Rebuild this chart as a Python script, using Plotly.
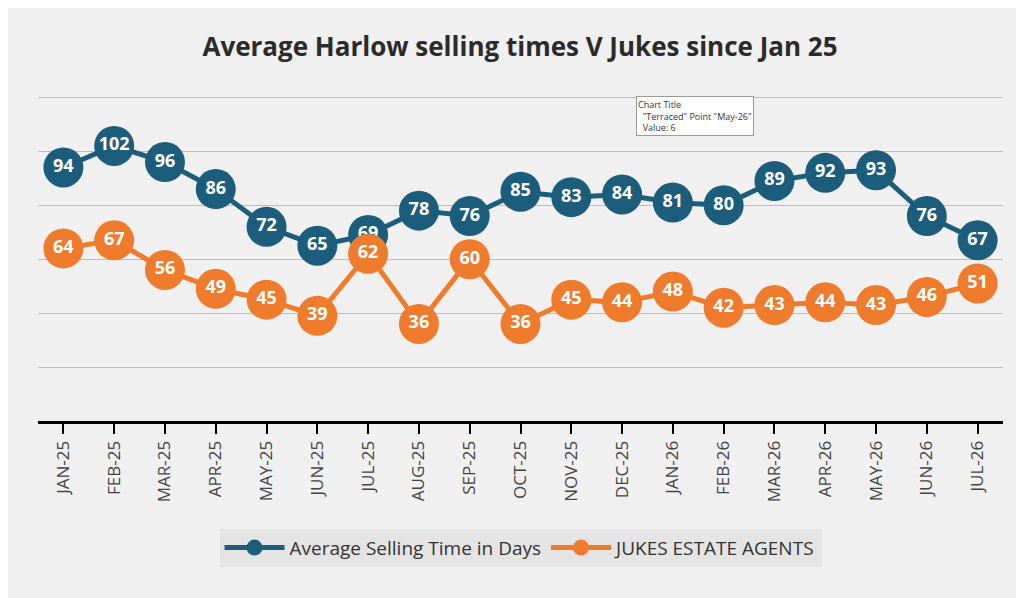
import plotly.graph_objects as go

months = ["JAN-25", "FEB-25", "MAR-25", "APR-25", "MAY-25", "JUN-25", "JUL-25", "AUG-25",
          "SEP-25", "OCT-25", "NOV-25", "DEC-25", "JAN-26", "FEB-26", "MAR-26", "APR-26",
          "MAY-26", "JUN-26", "JUL-26"]
harlow = [94, 102, 96, 86, 72, 65, 69, 78, 76, 85, 83, 84, 81, 80, 89, 92, 93, 76, 67]
jukes = [64, 67, 56, 49, 45, 39, 62, 36, 60, 36, 45, 44, 48, 42, 43, 44, 43, 46, 51]

blue = "#1c5d7c"
orange = "#ef7b2d"

fig = go.Figure()
for name, vals, col in [("Average Selling Time in Days", harlow, blue),
                        ("JUKES ESTATE AGENTS", jukes, orange)]:
    fig.add_trace(go.Scatter(
        x=months, y=vals, name=name, mode="lines+markers+text",
        line=dict(color=col, width=5),
        marker=dict(size=40, color=col),
        text=["<b>%d</b>" % v for v in vals], textposition="middle center",
        textfont=dict(color="white", size=18, family="Open Sans"),
    ))

fig.add_annotation(
    x=0.62, y=1.0, xref="paper", yref="paper", xanchor="left", yanchor="top",
    text="Chart Title<br>  \"Terraced\" Point \"May-26\"<br>  Value: 6",
    showarrow=False, align="left", font=dict(size=9, color="#333"),
    bgcolor="white", bordercolor="#999", borderwidth=1,
)

fig.update_layout(
    width=1024, height=598,
    paper_bgcolor="#f0f0f0", plot_bgcolor="#f0f0f0",
    margin=dict(l=30, r=29, t=88, b=185),
    title=dict(text="<b>Average Harlow selling times V Jukes since Jan 25</b>",
               x=0.5, y=0.95, xanchor="center",
               font=dict(size=26, color="#2b2b2b", family="Open Sans")),
    xaxis=dict(tickangle=-90, tickfont=dict(size=17, color="#444", family="Open Sans"),
               showline=True, linecolor="black", linewidth=3,
               ticks="outside", tickcolor="black", ticklen=10, tickwidth=2,
               showgrid=False, range=[-0.5, 18.5]),
    yaxis=dict(range=[0, 120.5], dtick=20, showticklabels=False,
               gridcolor="#bdbdbd", gridwidth=1, zeroline=False),
    showlegend=True,
    legend=dict(orientation="h", x=0.5, xanchor="center", y=-0.39, yanchor="middle",
                bgcolor="#e4e4e4", font=dict(size=19, color="#333", family="Open Sans"),
                itemwidth=60),
)

fig.write_html("out.html")
